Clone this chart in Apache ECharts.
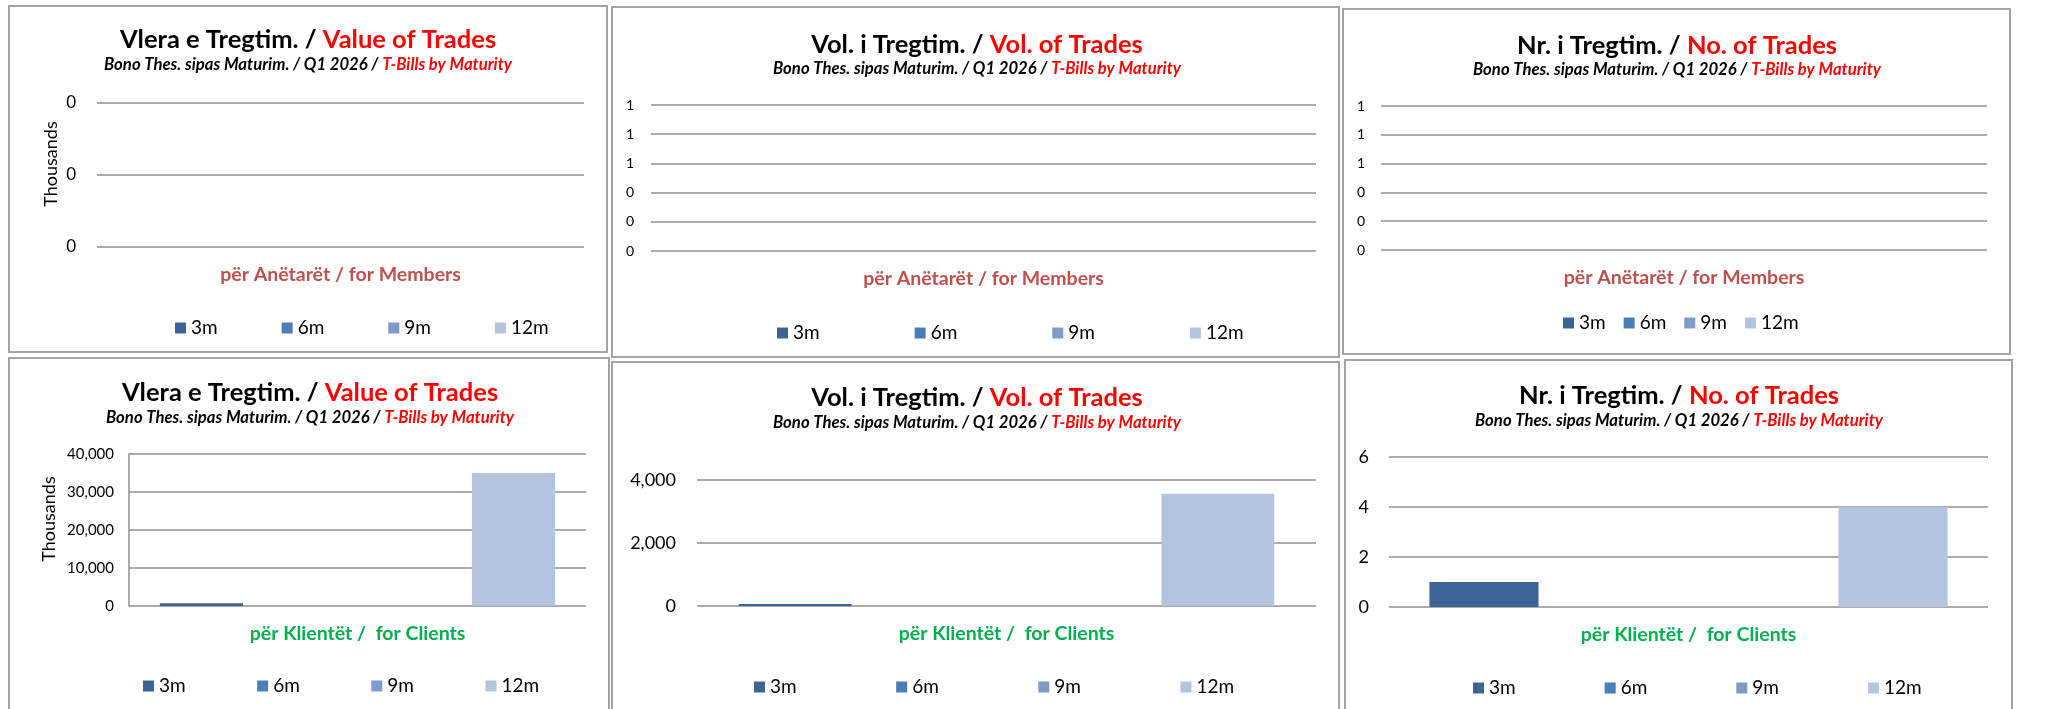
<!DOCTYPE html>
<html>
<head>
<meta charset="utf-8">
<script src="https://cdn.jsdelivr.net/npm/echarts@6/dist/echarts.min.js"></script>
<style>
html,body{margin:0;padding:0;background:#fff;}
#chart{width:2057px;height:709px;}
</style>
</head>
<body>
<div id="chart"></div>
<script>
// ---------- data ----------
const categories = [''];
const maturities = ['3m', '6m', '9m', '12m'];

const membersValue = [0, 0, 0, 0];          // Thousands
const membersVolume = [0, 0, 0, 0];
const membersCount = [0, 0, 0, 0];
const clientsValue = [700, 0, 0, 35000];    // Thousands
const clientsVolume = [60, 0, 0, 3560];
const clientsCount = [1, 0, 0, 4];

const axisMin = [0, 0, 0, 0, 0, 0];
const axisMax = [0.002, 1, 1, 40000, 4000, 6];
const axisInterval = [0.001, 0.2, 0.2, 10000, 2000, 2];

const titleLocal = ['Vlera e Tregtim. / ', 'Vol. i Tregtim. / ', 'Nr. i Tregtim. / '];
const titleEnglish = ['Value of Trades', 'Vol. of Trades', 'No. of Trades'];
const subtitleLocal = 'Bono Thes. sipas Maturim. / Q1 2026 / ';
const subtitleEnglish = 'T-Bills by Maturity';
const groupNames = ['për Anëtarët / for Members', 'për Klientët /  for Clients'];
const yAxisNames = ['Thousands', '', '', 'Thousands', '', ''];

// ---------- layout ----------
const FONT = "Lato, 'Open Sans', sans-serif";
const seriesColors = ['#3B6494', '#4A7EBB', '#7F9BC9', '#B4C3DE'];
const panelData = [membersValue, membersVolume, membersCount, clientsValue, clientsVolume, clientsCount];

const panels = [
  {box:[9,6,607,352],    grid:[97,103,584,247],   title:[308,40], sub:65,  lblMargin:21, lblSize:17, legend:[175,328,64],  nameGap:37},
  {box:[612,7,1339,357], grid:[651,105,1316,251], title:[977,45], sub:69,  lblMargin:17, lblSize:14, legend:[777,333,95],  nameGap:0},
  {box:[1343,9,2010,354],grid:[1381,106,1987,250],title:[1677,46],sub:70,  lblMargin:16, lblSize:14, legend:[1563,323,18], nameGap:0},
  {box:[9,358,609,740],  grid:[129,454,586,606],  title:[310,393],sub:418, lblMargin:15, lblSize:15, legend:[143,686,71.5],nameGap:71},
  {box:[612,362,1339,740],grid:[697,480,1316,606],title:[977,398],sub:423, lblMargin:21, lblSize:18, legend:[754,687,99.5],nameGap:0},
  {box:[1345,360,2012,740],grid:[1389,457,1988,607],title:[1679,396],sub:421,lblMargin:20,lblSize:18, legend:[1473,688,89],  nameGap:0}
];

const titles = [], grids = [], xAxes = [], yAxes = [], legends = [], series = [], graphics = [];
const fmt = v => Math.round(v).toLocaleString('en-US');

panels.forEach((p, i) => {
  const kind = i % 3;
  const isClient = i >= 3;
  graphics.push({
    type: 'rect', silent: true, z: -10,
    shape: {x: p.box[0], y: p.box[1], width: p.box[2] - p.box[0], height: p.box[3] - p.box[1]},
    style: {fill: '#fff', stroke: '#A3A3A3', lineWidth: 2}
  });
  titles.push({
    text: '{a|' + titleLocal[kind] + '}{b|' + titleEnglish[kind] + '}',
    left: p.title[0], top: p.title[1], textAlign: 'center', textVerticalAlign: 'middle', padding: 0,
    textStyle: {rich: {
      a: {fontFamily: FONT, fontWeight: 'bold', fontSize: 25.5, color: '#000'},
      b: {fontFamily: FONT, fontWeight: 'bold', fontSize: 25.5, color: '#FF0000'}
    }}
  });
  titles.push({
    text: '{a|' + subtitleLocal + '}{b|' + subtitleEnglish + '}',
    left: p.title[0], top: p.sub, textAlign: 'center', textVerticalAlign: 'middle', padding: 0,
    textStyle: {rich: {
      a: {fontFamily: FONT, fontWeight: 'bold', fontStyle: 'italic', fontSize: 16.7, color: '#000'},
      b: {fontFamily: FONT, fontWeight: 'bold', fontStyle: 'italic', fontSize: 16.7, color: '#FF0000'}
    }}
  });
  grids.push({
    left: p.grid[0], top: p.grid[1], width: p.grid[2] - p.grid[0], height: p.grid[3] - p.grid[1],
    containLabel: false
  });
  xAxes.push({
    type: 'category', gridIndex: i, data: categories,
    axisLine: {show: false}, axisTick: {show: false}, axisLabel: {show: false},
    name: groupNames[isClient ? 1 : 0], nameLocation: 'middle', nameGap: 18,
    nameTextStyle: {fontFamily: FONT, fontWeight: 'bold', fontSize: 19.5,
      color: isClient ? '#00B050' : '#C0504D'}
  });
  yAxes.push({
    type: 'value', gridIndex: i, min: axisMin[i], max: axisMax[i], interval: axisInterval[i],
    axisLine: {show: i === 3, lineStyle: {color: '#8F8F8F', width: 1.5}},
    axisTick: {show: false},
    splitLine: {show: true, lineStyle: {color: '#8F8F8F', width: 1.5}},
    axisLabel: {formatter: fmt, margin: p.lblMargin, fontFamily: FONT, fontSize: p.lblSize, color: '#000'},
    name: yAxisNames[i], nameLocation: 'middle', nameRotate: 90, nameGap: p.nameGap,
    nameTextStyle: {fontFamily: FONT, fontSize: 18, color: '#000', padding: [0, 0, 0, 22]}
  });
  legends.push({
    data: maturities, left: p.legend[0], top: p.legend[1] - 10, padding: 0,
    itemWidth: 11, itemHeight: 11, itemGap: p.legend[2], icon: 'rect',
    selectedMode: false,
    textStyle: {fontFamily: FONT, fontSize: 19, color: '#000', lineHeight: 20, width: 26, overflow: 'none'}
  });
  maturities.forEach((m, s) => {
    series.push({
      type: 'bar', name: m, xAxisIndex: i, yAxisIndex: i,
      data: [panelData[i][s]],
      itemStyle: {color: seriesColors[s]},
      barCategoryGap: '13.5%', barGap: '25%',
      animation: false
    });
  });
});

const chart = echarts.init(document.getElementById('chart'), null, {renderer: 'canvas'});
chart.setOption({
  animation: false,
  backgroundColor: '#fff',
  color: seriesColors,
  title: titles,
  grid: grids,
  xAxis: xAxes,
  yAxis: yAxes,
  legend: legends,
  series: series,
  graphic: graphics
});
</script>
</body>
</html>
